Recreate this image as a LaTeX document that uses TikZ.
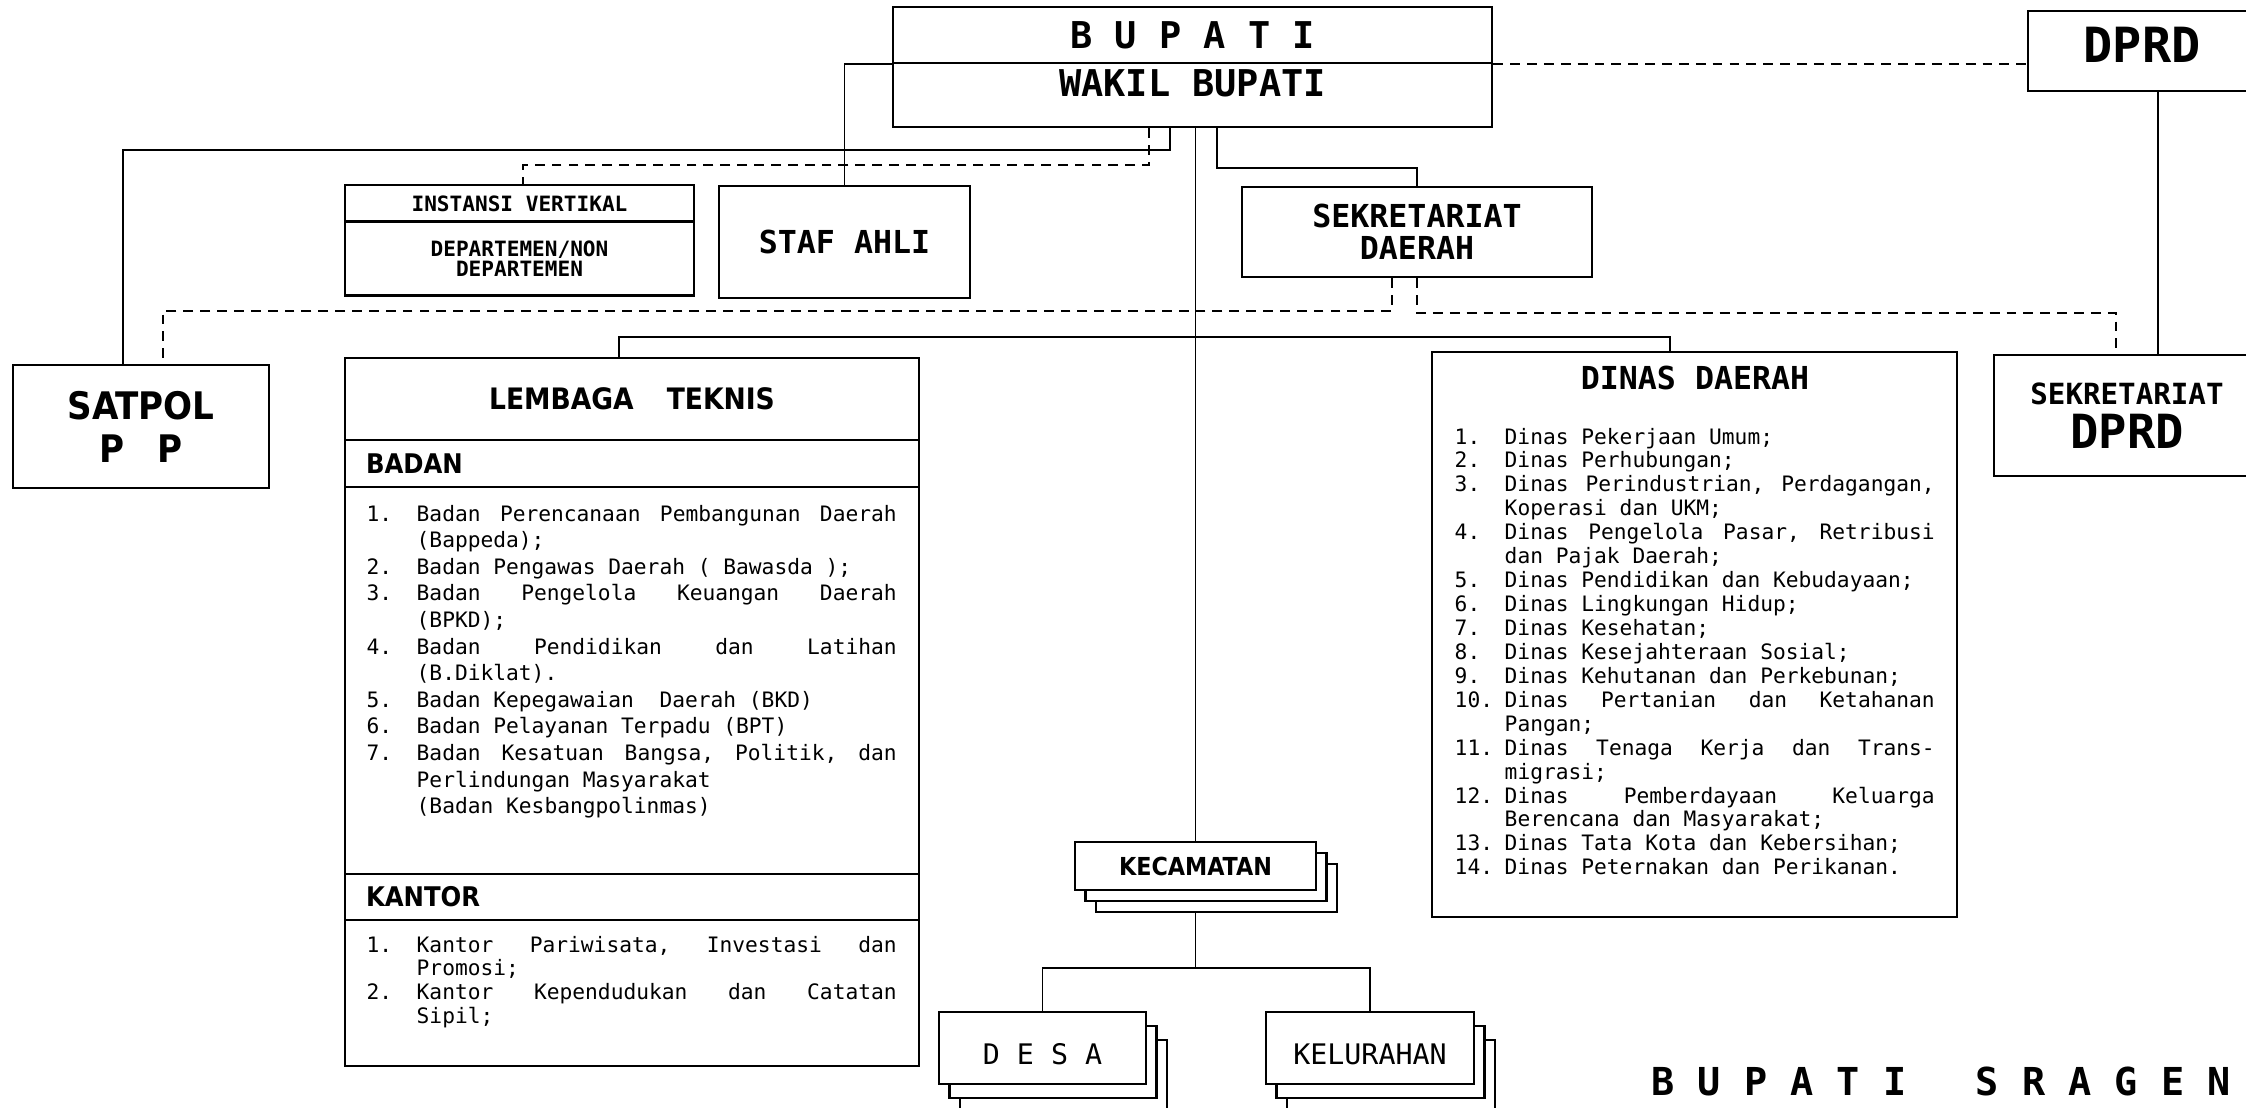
\documentclass[tikz,border=0pt]{standalone}
\usepackage{fontspec}
\setmainfont{DejaVu Sans Mono}
\newfontfamily\condfont{DejaVu Sans Condensed}

\newcommand{\jf}{\ \hfill}
\newcommand{\nr}[1]{\makebox[0.5cm][l]{#1}}
\newcommand{\fs}[2]{\fontsize{#1}{#2}\selectfont}

\begin{document}
\begin{tikzpicture}[x=1cm, y=-1cm,
    box/.style={draw, line width=0.75pt, fill=white, rectangle, inner sep=0pt, align=center},
    conn/.style={line width=0.55pt},
    dline/.style={line width=0.55pt, dash pattern=on 2.8pt off 2pt},
    ttl/.style={font=\fs{9pt}{9.1pt}\bfseries},
    hdr/.style={text width=5.32cm, align=left, font=\condfont\fs{7.7pt}{9pt}\bfseries},
    lst/.style={anchor=base west, inner sep=0pt},
    stack/.style 2 args={
      preaction={draw, fill=white, line width=0.75pt, transform canvas={xshift=2*#1, yshift=-2*#2}},
      preaction={draw, fill=white, line width=0.75pt, transform canvas={xshift=#1, yshift=-#2}}}]
    \useasboundingbox (0,0) rectangle (22.46,11.07);
    \clip (0,0) rectangle (22.46,11.07);

    % pimpinan
    \node [box, minimum width=5.99cm, minimum height=0.56cm, font=\fs{10.5pt}{12pt}\bfseries] (bupati) at (11.925,0.35) {B U P A T I};
    \node [box, minimum width=5.99cm, minimum height=0.64cm, text depth=0.24cm, font=\fs{10.5pt}{12pt}\bfseries] (wakil) at (11.925,0.95) {WAKIL BUPATI};
    \node [box, minimum width=2.28cm, minimum height=0.80cm, text depth=0.12cm, font=\fs{13.8pt}{14pt}\bfseries] (dprd) at (21.42,0.51) {DPRD};

    % baris kedua
    \node [box, minimum width=3.49cm, minimum height=0.37cm, font=\fs{6pt}{7pt}\bfseries] (instansi) at (5.195,2.035) {INSTANSI VERTIKAL};
    \node [box, minimum width=3.49cm, minimum height=0.74cm, font=\fs{6pt}{5.6pt}\bfseries] (dept) at (5.195,2.585) {DEPARTEMEN/NON\\DEPARTEMEN};
    \node [box, ttl, minimum width=2.51cm, minimum height=1.12cm] (stafahli) at (8.445,2.42) {STAF AHLI};
    \node [box, ttl, minimum width=3.50cm, minimum height=0.90cm] (sekda) at (14.17,2.32) {SEKRETARIAT\\DAERAH};

    \node [box, minimum width=2.56cm, minimum height=1.23cm, font=\condfont\fs{10.8pt}{12.2pt}\bfseries] (satpol) at (1.41,4.265) {SATPOL\\P\hspace{0.33cm}P};
    \node [box, minimum width=2.66cm, minimum height=1.21cm, font=\fs{13.4pt}{12.7pt}\bfseries] (sekdprd) at (21.27,4.155) {{\fs{8.3pt}{10pt}SEKRETARIAT}\\DPRD};

    % lembaga teknis
    \node [box, minimum width=5.74cm, minimum height=0.82cm, font=\condfont\fs{8.4pt}{10pt}\bfseries] (lembaga) at (6.32,3.99) {LEMBAGA\hspace{0.33cm}TEKNIS};
    \node [box, hdr, minimum width=5.74cm, minimum height=0.47cm] (badan) at (6.32,4.635) {BADAN};
    \node [box, minimum width=5.74cm, minimum height=3.87cm] (badanls) at (6.32,6.805) {};
    \node [box, hdr, minimum width=5.74cm, minimum height=0.46cm] (kantor) at (6.32,8.97) {KANTOR};
    \node [box, minimum width=5.74cm, minimum height=1.46cm] (kantorls) at (6.32,9.93) {};

    \node [lst] (badanlist) at (3.66,5.21) {\parbox[t]{5.30cm}{\raggedright\fs{6.04pt}{7.57pt}
      \nr{1.}Badan\jf Perencanaan\jf Pembangunan\jf Daerah\\
      \nr{}(Bappeda);\\
      \nr{2.}Badan Pengawas Daerah ( Bawasda );\\
      \nr{3.}Badan\jf Pengelola\jf Keuangan\jf Daerah\\
      \nr{}(BPKD);\\
      \nr{4.}Badan\jf Pendidikan\jf dan\jf Latihan\\
      \nr{}(B.Diklat).\\
      \nr{5.}Badan Kepegawaian\ \ Daerah (BKD)\\
      \nr{6.}Badan Pelayanan Terpadu (BPT)\\
      \nr{7.}Badan\jf Kesatuan\jf Bangsa,\jf Politik,\jf dan\\
      \nr{}Perlindungan Masyarakat\\
      \nr{}(Badan Kesbangpolinmas)}};

    \node [lst] (kantorlist) at (3.66,9.52) {\parbox[t]{5.30cm}{\raggedright\fs{6.04pt}{6.74pt}
      \nr{1.}Kantor\jf Pariwisata,\jf Investasi\jf dan\\
      \nr{}Promosi;\\
      \nr{2.}Kantor\jf Kependudukan\jf dan\jf Catatan\\
      \nr{}Sipil;}};

    % dinas daerah
    \node [box, minimum width=5.25cm, minimum height=5.65cm] (dinas) at (16.945,6.345) {};
    \node [ttl] (dinastl) at (16.95,3.78) {DINAS DAERAH};
    \node [lst] (dinaslist) at (14.54,4.44) {\parbox[t]{4.80cm}{\raggedright\fs{6.04pt}{6.81pt}
      \nr{1.}Dinas Pekerjaan Umum;\\
      \nr{2.}Dinas Perhubungan;\\
      \nr{3.}Dinas\jf Perindustrian,\jf Perdagangan,\\
      \nr{}Koperasi dan UKM;\\
      \nr{4.}Dinas\jf Pengelola\jf Pasar,\jf Retribusi\\
      \nr{}dan Pajak Daerah;\\
      \nr{5.}Dinas Pendidikan dan Kebudayaan;\\
      \nr{6.}Dinas Lingkungan Hidup;\\
      \nr{7.}Dinas Kesehatan;\\
      \nr{8.}Dinas Kesejahteraan Sosial;\\
      \nr{9.}Dinas Kehutanan dan Perkebunan;\\
      \nr{10.}Dinas\jf Pertanian\jf dan\jf Ketahanan\\
      \nr{}Pangan;\\
      \nr{11.}Dinas\jf Tenaga\jf Kerja\jf dan\jf Trans-\\
      \nr{}migrasi;\\
      \nr{12.}Dinas\jf Pemberdayaan\jf Keluarga\\
      \nr{}Berencana dan Masyarakat;\\
      \nr{13.}Dinas Tata Kota dan Kebersihan;\\
      \nr{14.}Dinas Peternakan dan Perikanan.}};

    % kewilayahan
    \node [box, stack={0.105cm}{0.11cm}, minimum width=2.41cm, minimum height=0.48cm, font=\condfont\fs{7.05pt}{8pt}\bfseries] (kec) at (11.955,8.66) {KECAMATAN};
    \node [box, stack={0.105cm}{0.14cm}, minimum width=2.07cm, minimum height=0.72cm, text height=0.33cm, font=\fs{8.06pt}{9pt}] (desa) at (10.425,10.48) {D E S A};
    \node [box, stack={0.105cm}{0.14cm}, minimum width=2.08cm, minimum height=0.72cm, text height=0.33cm, font=\fs{8.06pt}{9pt}] (kel) at (13.70,10.48) {KELURAHAN};

    \node [font=\fs{10.95pt}{12pt}\bfseries] (sign) at (19.41,10.81) {B U P A T I\ \ \ S R A G E N};

    % garis
    \coordinate (jsat) at (11.70,1.50);
    \coordinate (jins) at (11.49,1.65);
    \coordinate (jsek) at (12.17,1.68);
    \coordinate (jdl) at (13.92,3.11);
    \coordinate (jdr) at (14.17,3.13);
    \coordinate (jtek) at (11.955,3.37);
    \coordinate (jkec) at (11.955,9.68);
    \coordinate (jdp) at ([xshift=0.16cm]dprd.south);

    \draw [conn] (bupati.south west) -| (stafahli.north);
    \draw [conn] (wakil.south -| jsat) -- (jsat) -| ([xshift=-0.18cm]satpol.north);
    \draw [dline] (wakil.south -| jins) -- (jins) -| ([xshift=0.035cm]instansi.north);
    \draw [conn] (wakil.south -| kec.north) -- (kec.north);
    \draw [conn] (wakil.south -| jsek) -- (jsek) -| (sekda.north);
    \draw [dline] (sekda.south -| jdl) -- (jdl) -| ([xshift=0.22cm]satpol.north);
    \draw [dline] (sekda.south -| jdr) -- (jdr) -| ([xshift=-0.11cm]sekdprd.north);
    \draw [conn] ([xshift=-0.13cm]lembaga.north) |- (jtek) -| ([xshift=-0.245cm]dinas.north);
    \draw [dline] (bupati.south east) -- (bupati.south east -| dprd.west);
    \draw [conn] (jdp) -- (jdp |- sekdprd.north);
    \draw [conn] ([yshift=-0.22cm]kec.south) -- (jkec);
    \draw [conn] (desa.north) |- (jkec) -| (kel.north);
\end{tikzpicture}
\end{document}
